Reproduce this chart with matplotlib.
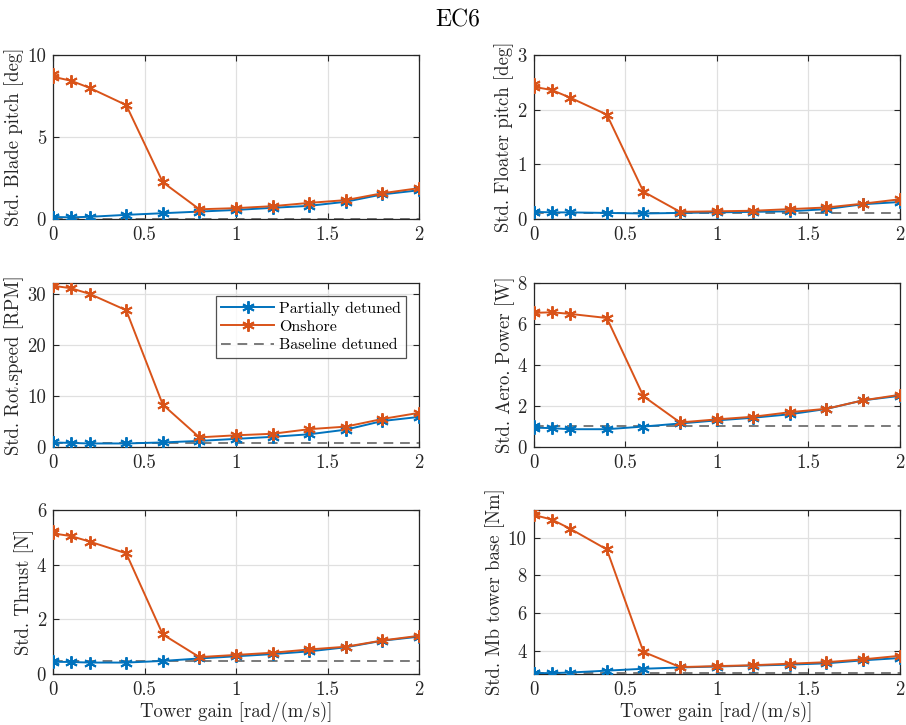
import matplotlib
matplotlib.use("Agg")
import matplotlib.pyplot as plt

plt.rcParams['font.family'] = ['cmr10', 'DejaVu Serif']
plt.rcParams['mathtext.fontset'] = 'cm'
plt.rcParams['axes.formatter.use_mathtext'] = True

# tower gain, 0 appears twice in the source data
gain = [0, 0, 0.1, 0.2, 0.4, 0.6, 0.8, 1.0, 1.2, 1.4, 1.6, 1.8, 2.0]

pitch_part = [0.10, 0.12, 0.10, 0.13, 0.25, 0.35, 0.45, 0.55, 0.68, 0.80, 1.05, 1.50, 1.75]
pitch_on = [8.82, 8.68, 8.43, 8.00, 6.95, 2.24, 0.59, 0.66, 0.78, 0.98, 1.15, 1.57, 1.88]
pitch_base = 0.02

floater_part = [0.12, 0.13, 0.12, 0.12, 0.11, 0.10, 0.11, 0.12, 0.13, 0.14, 0.18, 0.27, 0.31]
floater_on = [2.48, 2.42, 2.36, 2.22, 1.91, 0.50, 0.13, 0.14, 0.15, 0.18, 0.21, 0.28, 0.36]
floater_base = 0.11

rot_part = [1.0, 0.9, 0.8, 0.7, 0.7, 0.9, 1.2, 1.6, 2.0, 2.5, 3.4, 5.1, 5.9]
rot_on = [31.9, 31.6, 31.1, 30.0, 26.8, 8.3, 1.9, 2.3, 2.6, 3.5, 4.0, 5.5, 6.7]
rot_base = 0.8

aero_part = [1.02, 0.95, 0.92, 0.87, 0.87, 1.00, 1.15, 1.30, 1.43, 1.60, 1.86, 2.28, 2.50]
aero_on = [6.60, 6.55, 6.58, 6.50, 6.30, 2.48, 1.20, 1.35, 1.48, 1.70, 1.87, 2.28, 2.55]
aero_base = 1.02

thrust_part = [0.47, 0.45, 0.44, 0.42, 0.42, 0.48, 0.57, 0.65, 0.73, 0.83, 0.98, 1.22, 1.37]
thrust_on = [5.25, 5.15, 5.05, 4.85, 4.42, 1.45, 0.62, 0.70, 0.78, 0.90, 1.00, 1.23, 1.40]
thrust_base = 0.46

mb_part = [2.78, 2.80, 2.80, 2.83, 2.93, 3.03, 3.10, 3.15, 3.20, 3.25, 3.32, 3.48, 3.60]
mb_on = [11.45, 11.22, 10.97, 10.48, 9.38, 3.93, 3.12, 3.17, 3.22, 3.30, 3.38, 3.53, 3.72]
mb_base = 2.78

panels = [
    ("Std. Blade pitch [deg]", pitch_part, pitch_on, pitch_base, (0, 10), [0, 5, 10]),
    ("Std. Floater pitch [deg]", floater_part, floater_on, floater_base, (0, 3), [0, 1, 2, 3]),
    ("Std. Rot.speed [RPM]", rot_part, rot_on, rot_base, (0, 32.1), [0, 10, 20, 30]),
    ("Std. Aero. Power [W]", aero_part, aero_on, aero_base, (0, 8), [0, 2, 4, 6, 8]),
    ("Std. Thrust [N]", thrust_part, thrust_on, thrust_base, (0, 6), [0, 2, 4, 6]),
    ("Std. Mb tower base [Nm]", mb_part, mb_on, mb_base, (2.75, 11.47), [4, 6, 8, 10]),
]

blue = '#0072BD'
orange = '#D95319'
dark = '#262626'
star = (6, 2, 0)

fig = plt.figure(figsize=(9.06, 7.25), dpi=100)

lefts = [0.0585, 0.589]
bottoms = [0.698, 0.3834, 0.0703]
w, h = 0.404, 0.226

for i, (lab, part, on, base, ylim, yt) in enumerate(panels):
    ax = fig.add_axes([lefts[i % 2], bottoms[i // 2], w, h])
    ax.plot(gain, part, color=blue, lw=1.4, marker=star, ms=9, mew=1.4, label='Partially detuned', zorder=3)
    ax.plot(gain, on, color=orange, lw=1.4, marker=star, ms=9, mew=1.4, label='Onshore', zorder=4)
    ax.axhline(base, color='#7a7a7a', lw=1.4, ls=(0, (5, 3.5)), label='Baseline detuned', zorder=2)
    ax.set_xlim(0, 2)
    ax.set_ylim(*ylim)
    ax.set_xticks([0, 0.5, 1, 1.5, 2])
    ax.set_xticklabels(['0', '0.5', '1', '1.5', '2'])
    ax.set_yticks(yt)
    ax.set_yticklabels([str(v) for v in yt])
    ax.grid(True, color='#e0e0e0', lw=0.9)
    ax.set_axisbelow(True)
    ax.tick_params(direction='in', length=4, width=0.8, top=True, right=True,
                   labelsize=13.5, colors=dark, pad=5)
    for s in ax.spines.values():
        s.set_color(dark)
        s.set_linewidth(0.9)
    ax.set_ylabel(lab, fontsize=13.5, color=dark, labelpad=2)
    if i >= 4:
        ax.set_xlabel('Tower gain [rad/(m/s)]', fontsize=13.5, color=dark, labelpad=2)
    if i == 2:
        leg = ax.legend(loc='upper right', fontsize=11.5, frameon=True, fancybox=False,
                        edgecolor=dark, handlelength=3.3, borderpad=0.35,
                        labelspacing=0.25, handletextpad=0.3, borderaxespad=0.8)
        leg.get_frame().set_linewidth(0.9)

fig.text(0.505, 0.972, 'EC6', ha='center', va='center', fontsize=17, color='black')

fig.savefig('out.png', dpi=100, facecolor='white')
